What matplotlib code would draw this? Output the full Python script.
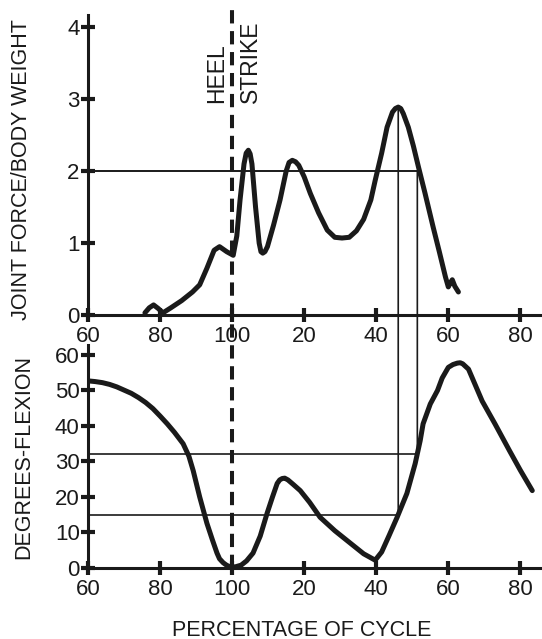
import matplotlib
matplotlib.use("Agg")
import matplotlib.pyplot as plt
from matplotlib.patches import ConnectionPatch
from matplotlib.lines import Line2D

plt.rcParams['font.family'] = ['Liberation Sans', 'DejaVu Sans']

# joint force / body weight
force_x = [75.8, 77.0, 78.2, 79.5, 80.8, 83, 86, 89, 91, 93, 95, 96.5, 98.5, 100.3,
           101.3, 102.2, 103.3, 103.9, 104.5, 105.0, 105.5, 106.5, 107.5, 108.0, 108.5,
           109.1, 109.8, 111.5, 113.3, 115.0, 115.8, 116.7, 117.6, 118.5, 120.0, 121.7,
           124, 126.4, 128.5, 130.5, 132.5, 134.5, 136.5, 138.5, 139.7, 141.5, 143,
           144.5, 145.3, 146.1, 146.8, 147.5, 148.9, 150.3, 151.7, 153.5, 155.8, 157.5,
           159.2, 160, 160.6, 161.1, 161.8, 162.8]
force_y = [0.03, 0.10, 0.14, 0.09, 0.03, 0.10, 0.20, 0.32, 0.42, 0.65, 0.90, 0.95, 0.88, 0.83,
           1.1, 1.6, 2.10, 2.25, 2.29, 2.24, 2.1, 1.5, 1.0, 0.88, 0.86,
           0.88, 0.95, 1.25, 1.6, 2.0, 2.12, 2.15, 2.13, 2.08, 1.92, 1.69,
           1.42, 1.18, 1.08, 1.07, 1.08, 1.17, 1.33, 1.60, 1.87, 2.25, 2.61,
           2.82, 2.87, 2.89, 2.87, 2.80, 2.61, 2.35, 2.06, 1.70, 1.22, 0.88,
           0.53, 0.39, 0.45, 0.49, 0.40, 0.32]

# knee flexion (degrees)
flex_x = [60, 62, 64, 66, 68, 70, 72, 74, 76, 78, 80, 82, 84, 86.4, 88, 89.2, 91,
          93, 94.5, 95.8, 96.5, 97.5, 98.3, 99, 100.8, 102.5, 104, 105.8, 107.8, 109.7,
          111.2, 112.5, 113.2, 113.9, 114.6, 115.5, 117, 118.9, 121.5, 124.4, 128.5,
          132.8, 136.5, 139.7, 141.5, 143.5, 145.8, 148.5, 150.8, 152.2, 153, 155, 157,
          158.3, 160, 161.3, 162.5, 163.3, 164, 165.6, 167.5, 169.4, 173, 177, 180, 183.3]
flex_y = [52.7, 52.5, 52.2, 51.7, 51.0, 50.1, 49.2, 48.0, 46.6, 44.9, 42.8, 40.6, 38.2,
          35, 31.5, 27.4, 20, 12.6, 8, 4.2, 2.6, 1.5, 0.9, 0.5, 0.3, 0.8, 2, 4.2, 9, 15.4,
          20, 23.8, 24.8, 25.2, 25.3, 24.8, 23.5, 21.8, 18.5, 14.3, 10.5,
          7, 4, 2.2, 4.5, 9, 14.3, 21, 29.4, 35.9, 40.6, 46.2, 50,
          53.5, 56.5, 57.3, 57.7, 57.8, 57.5, 56, 51.5, 47, 40.5, 33, 27.5, 21.8]

xticks = [60, 80, 100, 120, 140, 160, 180]
xticklabels = ['60', '80', '100', '20', '40', '60', '80']
force_ticks = [0, 1, 2, 3, 4]
flex_ticks = [0, 10, 20, 30, 40, 50, 60]

heel_strike = 100
peak_x, peak_force, peak_flex = 146.1, 2.89, 15
cross_x, cross_force, cross_flex = 151.4, 2.0, 32

ink = '#1a1a1a'
fig = plt.figure(figsize=(5.42, 6.39), dpi=100)
W, H = 542, 639
ax1 = fig.add_axes([88 / W, 1 - 315 / H, 1 - 88 / W, (315 - 15) / H])
ax2 = fig.add_axes([88 / W, 1 - 568 / H, 1 - 88 / W, (568 - 345) / H])

for ax in (ax1, ax2):
    ax.set_xlim(60, 186)
    for s in ('top', 'right'):
        ax.spines[s].set_visible(False)
    for s in ('left', 'bottom'):
        ax.spines[s].set_linewidth(2.2)
        ax.spines[s].set_color(ink)
    ax.set_xticks(xticks)
    ax.set_xticklabels(xticklabels)
    ax.tick_params(direction='inout', length=10, width=3, color=ink,
                   labelsize=16, labelcolor=ink)
    ax.tick_params(axis='x', pad=3)
    ax.tick_params(axis='y', pad=1)

ax1.set_ylim(0, 4.17)
ax1.set_yticks(force_ticks)
ax2.set_ylim(0, 62.8)
ax2.set_yticks(flex_ticks)

ax1.plot(force_x, force_y, color=ink, lw=3.6, solid_capstyle='round', solid_joinstyle='round')
ax2.plot(flex_x, flex_y, color=ink, lw=3.6, solid_capstyle='round', solid_joinstyle='round')

# reference lines
ax1.plot([60, cross_x], [cross_force, cross_force], color=ink, lw=1.4)
ax2.plot([60, cross_x], [cross_flex, cross_flex], color=ink, lw=1.2)
ax2.plot([60, peak_x], [peak_flex, peak_flex], color=ink, lw=1.2)
for x, yt, yb in ((peak_x, peak_force, peak_flex), (cross_x, cross_force, cross_flex)):
    con = ConnectionPatch(xyA=(x, yt), coordsA='data', axesA=ax1,
                          xyB=(x, yb), coordsB='data', axesB=ax2,
                          color=ink, lw=1.2)
    fig.add_artist(con)

# heel strike dashed line through both panels
to_fig = fig.transFigure.inverted()
xf, yf_top = to_fig.transform(ax1.transData.transform((heel_strike, 4.27)))
_, yf_bot = to_fig.transform(ax2.transData.transform((heel_strike, 0)))
fig.add_artist(Line2D([xf, xf], [yf_bot, yf_top], transform=fig.transFigure,
                      color=ink, lw=2.9, linestyle=(0, (3.3, 1.9)),
                      dash_capstyle='butt', zorder=5))

ax1.text(95.6, 2.94, 'HEEL', rotation=90, rotation_mode='anchor', ha='left',
         va='center', fontsize=16.5, color=ink)
ax1.text(105.0, 2.94, 'STRIKE', rotation=90, rotation_mode='anchor', ha='left',
         va='center', fontsize=16.5, color=ink)

fig.text(22 / W, 1 - 170 / H, 'JOINT FORCE/BODY WEIGHT', rotation=90,
         ha='center', va='center', fontsize=15.5, color=ink)
fig.text(24 / W, 1 - 457 / H, 'DEGREES-FLEXION', rotation=90,
         ha='center', va='center', fontsize=15.5, color=ink)
fig.text(302 / W, 1 - 630 / H, 'PERCENTAGE OF CYCLE',
         ha='center', va='center', fontsize=15.5, color=ink)

fig.savefig('out.png', dpi=100)
